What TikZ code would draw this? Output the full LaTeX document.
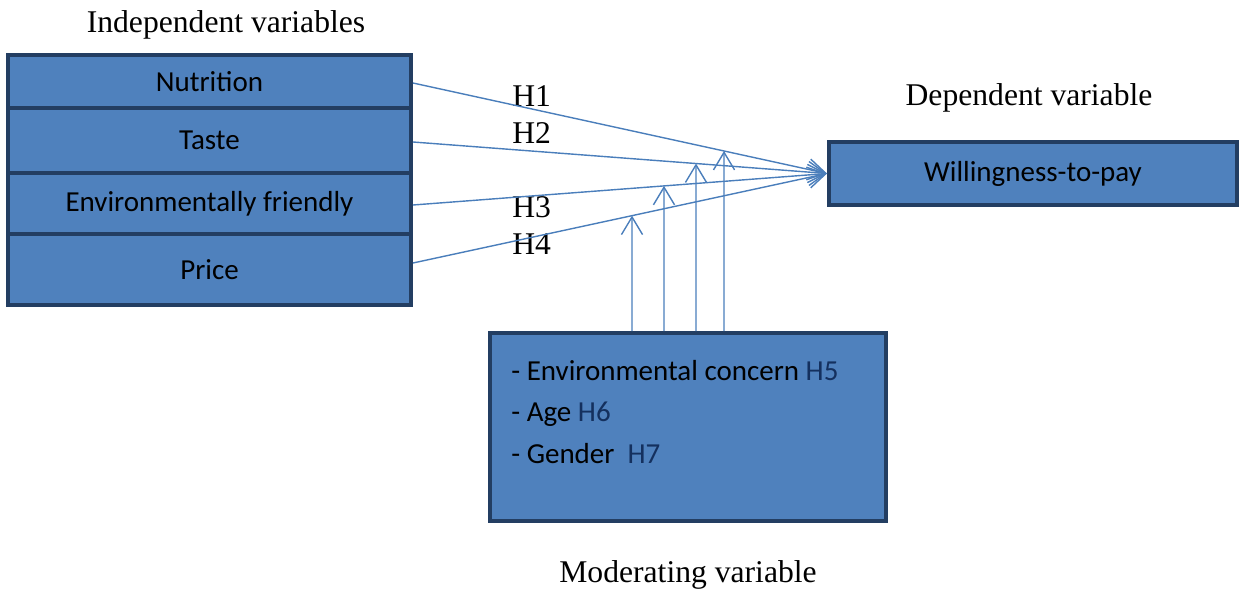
\documentclass[tikz,border=0pt]{standalone}
\usepackage{fontspec}
\usepackage{xcolor}
\setmainfont{Liberation Serif}
\newfontfamily\calfont{Carlito}
\usetikzlibrary{arrows.meta}
\definecolor{boxblue}{HTML}{4F81BD}
\definecolor{boxedge}{HTML}{233E62}
\definecolor{linkblue}{HTML}{4A7EBB}
\definecolor{hypblue}{HTML}{14305E}

\begin{document}
\begin{tikzpicture}[x=0.02cm, y=-0.02cm,
    varbox/.style={draw=boxedge, line width=2.3pt, fill=boxblue, font=\calfont\fontsize{16.5}{20}\selectfont},
    link/.style={linkblue, line width=0.8pt, -{Straight Barb[length=10pt,width=12pt]}},
    title/.style={font=\fontsize{18}{22}\selectfont}]
    \useasboundingbox (0,0) rectangle (1239,595);
    % independent variables
    \foreach \n/\y/\h/\t in {1/81.5/53/Nutrition, 2/140.5/65/Taste, 3/203.5/61/Environmentally friendly, 4/269.5/71/Price}
        \node[varbox, minimum width=8.06cm, minimum height=\h*0.02cm] (r\n) at (209.5,\y) {\t};
    % dependent and moderating variables
    \node[varbox, minimum width=8.16cm, minimum height=1.26cm] (wtp) at (1033,173.5) {Willingness-to-pay};
    \node[varbox, minimum width=7.92cm, minimum height=3.76cm] (mod) at (688,427) {};
    \foreach \t [count=\i] in {- Environmental concern \textcolor{hypblue}{H5}, - Age \textcolor{hypblue}{H6}, - Gender~~\textcolor{hypblue}{H7}}
        \node[anchor=base west, inner sep=0pt, font=\calfont\fontsize{16.5}{20}\selectfont] (m\i) at (511,338.5+41.5*\i) {\t};
    % titles
    \node[title, anchor=base] (indep) at (226,32) {Independent variables};
    \node[title, anchor=base] (dep) at (1029,105) {Dependent variable};
    \node[title, anchor=base] (moder) at (688,582) {Moderating variable};
    % hypotheses
    \foreach \i/\y in {1/106, 2/143, 3/217, 4/254}
        \node[title, anchor=base west, inner sep=0pt] (h\i) at (512,\y) {H\i};
    \foreach \i/\dy in {1/-1.5, 2/-1.5, 3/-1.5, 4/6.5} {
        \coordinate (s\i) at ([yshift=\dy*0.02cm]r\i.east);
        \draw[link] (s\i) -- (wtp.west);
    }
    \foreach \x/\i in {632/4, 664/3, 696/2, 724/1} {
        \coordinate (t\i) at (intersection of s\i--wtp.west and \x,0--\x,600);
        \draw[link] (\x,0 |- mod.north) -- (t\i);
    }
\end{tikzpicture}
\end{document}
